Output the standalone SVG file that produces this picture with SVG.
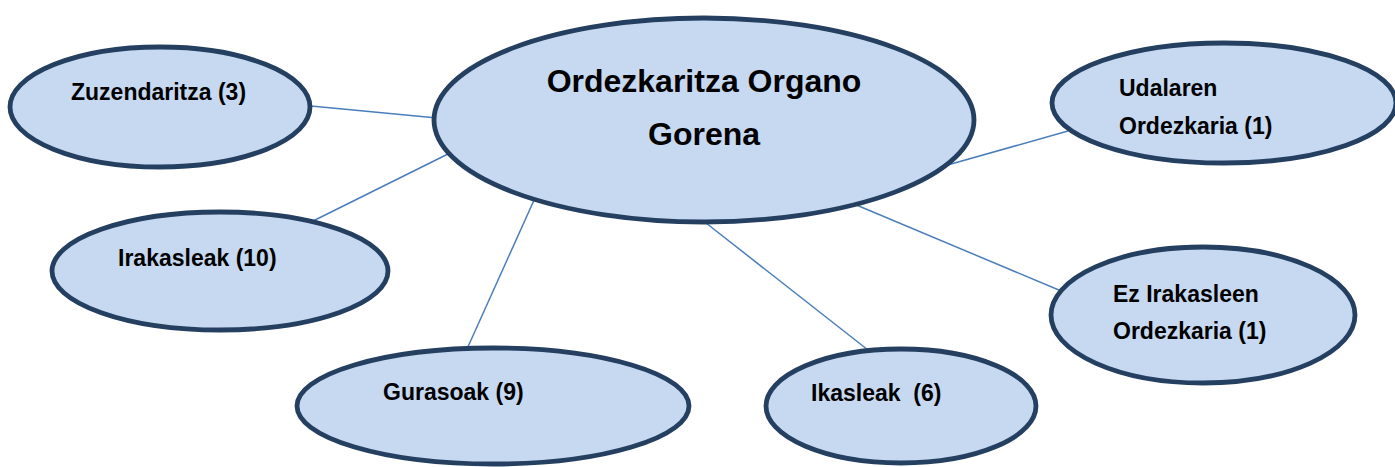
<svg xmlns="http://www.w3.org/2000/svg" width="1395" height="467" viewBox="0 0 1395 467">
  <style>
    .node { fill: #c6d9f1; stroke: #243f60; stroke-width: 4.8; }
    .lbl { font-family: "Liberation Sans", Arial, sans-serif; font-weight: bold; font-size: 23px; fill: #000; white-space: pre; }
    .big { font-size: 32px; text-anchor: middle; }
    .conn line { stroke: #4a7ebb; stroke-width: 1.5; }
  </style>
  <rect width="1395" height="467" fill="#ffffff"/>
  <g id="connectors" class="conn">
    <line x1="311" y1="106" x2="437" y2="118"/>
    <line x1="309" y1="223" x2="452" y2="152"/>
    <line x1="467" y1="349" x2="535" y2="198"/>
    <line x1="706" y1="223" x2="868" y2="350"/>
    <line x1="854" y1="204" x2="1066" y2="293"/>
    <line x1="944" y1="166" x2="1068" y2="131"/>
  </g>
  <g id="node-central">
    <ellipse class="node" cx="704" cy="120" rx="270" ry="102"/>
    <text class="lbl big" x="704" y="92">Ordezkaritza Organo</text>
    <text class="lbl big" x="704" y="145">Gorena</text>
  </g>
  <g id="node-zuzendaritza">
    <ellipse class="node" cx="160" cy="107" rx="150" ry="60"/>
    <text class="lbl" x="71" y="100">Zuzendaritza (3)</text>
  </g>
  <g id="node-irakasleak">
    <ellipse class="node" cx="220" cy="271" rx="168" ry="59"/>
    <text class="lbl" x="118" y="266">Irakasleak (10)</text>
  </g>
  <g id="node-gurasoak">
    <ellipse class="node" cx="493" cy="406" rx="196" ry="58"/>
    <text class="lbl" x="383" y="400">Gurasoak (9)</text>
  </g>
  <g id="node-ikasleak">
    <ellipse class="node" cx="901" cy="406" rx="135" ry="57"/>
    <text class="lbl" x="811" y="401" xml:space="preserve">Ikasleak  (6)</text>
  </g>
  <g id="node-udalaren">
    <ellipse class="node" cx="1224" cy="103" rx="172" ry="60"/>
    <text class="lbl" x="1119" y="96">Udalaren</text>
    <text class="lbl" x="1119" y="134">Ordezkaria (1)</text>
  </g>
  <g id="node-ez-irakasleen">
    <ellipse class="node" cx="1203" cy="315" rx="152" ry="68"/>
    <text class="lbl" x="1113" y="302">Ez Irakasleen</text>
    <text class="lbl" x="1113" y="339">Ordezkaria (1)</text>
  </g>
</svg>
